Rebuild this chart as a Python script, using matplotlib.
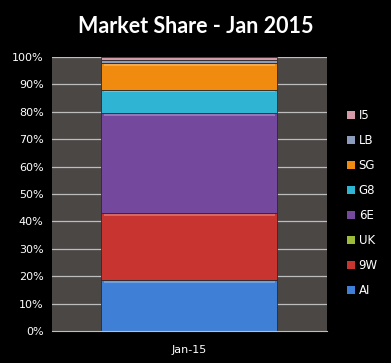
import matplotlib.pyplot as plt
from matplotlib.patches import Patch

# market share, Jan 2015 (percent), bottom to top
carriers = ["AI", "9W", "UK", "6E", "G8", "SG", "LB", "I5"]
share = [18.6, 24.4, 0.2, 36.3, 8.5, 9.7, 1.1, 1.2]
colors = ["#3f7fd6", "#c8342f", "#9bbb3a", "#74489c", "#2fb5d3", "#f08b10", "#8d9cbd", "#d49aa8"]
month = ["Jan-15"]
yticks = list(range(0, 101, 10))

fig = plt.figure(figsize=(3.91, 3.63), dpi=100, facecolor="black")
ax = fig.add_axes([0.133, 0.088, 0.703, 0.755])
ax.set_facecolor("#4a4745")

for y in yticks[1:]:
    ax.axhline(y, color="#bdbdbd", lw=0.9, zorder=1)

bottom = 0
for name, val, c in zip(carriers, share, colors):
    ax.bar(0, val, bottom=bottom, width=0.64, color=c, edgecolor="#2b2b2b",
           linewidth=0.6, zorder=2, label=name)
    # light bevel at top of each segment
    if val > 2:
        ax.bar(0, 0.6, bottom=bottom + val - 0.9, width=0.62, color="white",
               alpha=0.25, linewidth=0, zorder=3)
    bottom += val

ax.set_xlim(-0.5, 0.5)
ax.set_ylim(0, 100)
ax.set_yticks(yticks)
ax.set_yticklabels([f"{v}%" for v in yticks])
ax.set_xticks([0])
ax.set_xticklabels(month)
ax.tick_params(colors="white", labelsize=8, length=0, pad=6)
ax.tick_params(axis="x", pad=10)
for s in ax.spines.values():
    s.set_visible(False)
ax.spines["bottom"].set_visible(True)
ax.spines["bottom"].set_color("#bdbdbd")

handles = [Patch(facecolor=c, edgecolor="none") for c in colors][::-1]
fig.legend(handles, carriers[::-1], loc="center left", bbox_to_anchor=(0.86, 0.44),
           frameon=False, labelcolor="white", fontsize=8.5, handlelength=0.7,
           handleheight=0.7, handletextpad=0.3, labelspacing=1.02)

fig.suptitle("Market Share - Jan 2015", color="white", fontsize=15.5,
             fontweight="bold", family="Lato", y=0.955)

fig.savefig("out.png", dpi=100, facecolor="black")
